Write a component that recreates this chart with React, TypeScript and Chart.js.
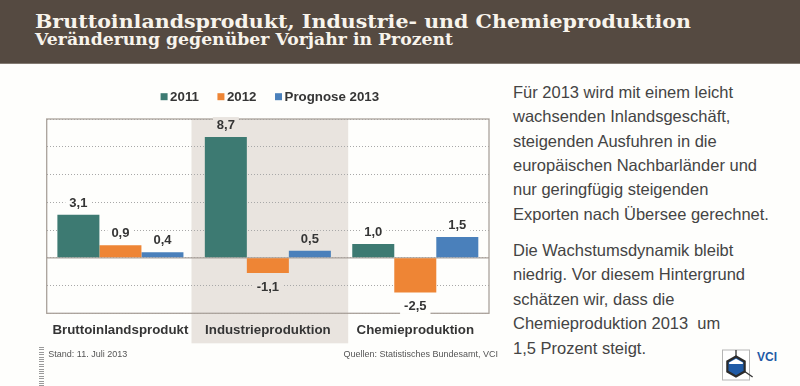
import React, { useEffect, useRef } from 'react';
import { Chart, registerables } from 'chart.js';

Chart.register(...registerables);

// ---- data ----
const categories = ['Bruttoinlandsprodukt', 'Industrieproduktion', 'Chemieproduktion'];
const seriesLabels = ['2011', '2012', 'Prognose 2013'];
const values2011 = [3.1, 8.7, 1.0];
const values2012 = [0.9, -1.1, -2.5];
const values2013 = [0.4, 0.5, 1.5];
const seriesColors = ['#3d7a72', '#ee8535', '#4a80bb'];
const yMin = -4;
const yMax = 10;
const yStep = 2;

const titleText = 'Bruttoinlandsprodukt, Industrie- und Chemieproduktion';
const subtitleText = 'Veränderung gegenüber Vorjahr in Prozent';
const paragraph1 = [
  'Für 2013 wird mit einem leicht',
  'wachsenden Inlandsgeschäft,',
  'steigenden Ausfuhren in die',
  'europäischen Nachbarländer und',
  'nur geringfügig steigenden',
  'Exporten nach Übersee gerechnet.',
];
const paragraph2 = [
  'Die Wachstumsdynamik bleibt',
  'niedrig. Vor diesem Hintergrund',
  'schätzen wir, dass die',
  'Chemieproduktion 2013\u00a0 um',
  '1,5 Prozent steigt.',
];
const footLeft = 'Stand: 11. Juli 2013';
const footRight = 'Quellen: Statistisches Bundesamt, VCI';

// ---- styles ----
const PAGE_BG = '#fefefc';
const BAND = '#e9e4df';
const FRAME = '#aaa29b';
const TEXT = '#353535';
const SANS = '"Liberation Sans", Arial, sans-serif';

const fmt = (v: number) => v.toFixed(1).replace('.', ',');

const bandPlugin = {
  id: 'band',
  beforeDraw(chart: any) {
    const { ctx, chartArea, scales } = chart;
    const x = scales.x;
    const c = x.getPixelForValue(1);
    const w = x.getPixelForValue(1) - x.getPixelForValue(0);
    ctx.save();
    ctx.fillStyle = BAND;
    const left = c - 0.518 * w;
    const right = c + 0.545 * w;
    ctx.fillRect(left, chartArea.top, right - left, chartArea.bottom + 30 - chartArea.top);
    ctx.restore();
  },
};

const framePlugin = {
  id: 'frame',
  beforeDatasetsDraw(chart: any) {
    const { ctx, chartArea, scales } = chart;
    const y0 = scales.y.getPixelForValue(0);
    ctx.save();
    ctx.strokeStyle = FRAME;
    ctx.lineWidth = 1.3;
    ctx.strokeRect(chartArea.left, chartArea.top, chartArea.right - chartArea.left, chartArea.bottom - chartArea.top);
    ctx.beginPath();
    ctx.moveTo(chartArea.left, y0);
    ctx.lineTo(chartArea.right, y0);
    ctx.stroke();
    ctx.restore();
  },
};

const labelPlugin = {
  id: 'valueLabels',
  afterDatasetsDraw(chart: any) {
    const { ctx } = chart;
    ctx.save();
    ctx.font = `bold 13px ${SANS}`;
    ctx.textAlign = 'center';
    ctx.textBaseline = 'middle';
    chart.data.datasets.forEach((ds: any, di: number) => {
      const meta = chart.getDatasetMeta(di);
      meta.data.forEach((el: any, i: number) => {
        const v = ds.data[i] as number;
        const txt = fmt(v);
        const y = v >= 0 ? el.y - 12 : el.y + 13.5;
        const w = ctx.measureText(txt).width;
        ctx.fillStyle = i === 1 ? BAND : PAGE_BG;
        ctx.fillRect(el.x - w / 2 - 4, y - 8, w + 8, 16);
        ctx.fillStyle = TEXT;
        ctx.fillText(txt, el.x, y + 0.5);
      });
    });
    ctx.restore();
  },
};

const legendPlugin = {
  id: 'customLegend',
  afterDraw(chart: any) {
    const { ctx, chartArea } = chart;
    const box = 7;
    const gap = 2.5;
    const spacing = 18.5;
    const cy = 32.7;
    ctx.save();
    ctx.font = `bold 13.3px ${SANS}`;
    ctx.textBaseline = 'middle';
    ctx.textAlign = 'left';
    const items = chart.data.datasets.map((ds: any) => ({
      text: ds.label as string,
      color: ds.backgroundColor as string,
      w: ctx.measureText(ds.label).width,
    }));
    const total =
      items.reduce((s: number, it: any) => s + box + gap + it.w, 0) + spacing * (items.length - 1);
    let x = (chartArea.left + chartArea.right) / 2 + 2 - total / 2;
    items.forEach((it: any) => {
      ctx.fillStyle = it.color;
      ctx.fillRect(x, cy - box / 2, box, box);
      x += box + gap;
      ctx.fillStyle = TEXT;
      ctx.fillText(it.text, x, cy + 0.5);
      x += it.w + spacing;
    });
    ctx.restore();
  },
};

function ChartCanvas() {
  const ref = useRef<HTMLCanvasElement | null>(null);
  useEffect(() => {
    if (!ref.current) return;
    const chart = new Chart(ref.current, {
      type: 'bar',
      data: {
        labels: categories,
        datasets: [
          { label: seriesLabels[0], data: values2011, backgroundColor: seriesColors[0] },
          { label: seriesLabels[1], data: values2012, backgroundColor: seriesColors[1] },
          { label: seriesLabels[2], data: values2013, backgroundColor: seriesColors[2] },
        ],
      },
      options: {
        responsive: false,
        maintainAspectRatio: false,
        animation: false,
        datasets: { bar: { barPercentage: 1, categoryPercentage: 0.855, borderWidth: 0 } },
        layout: { padding: { top: 55, left: 46.7, right: 11, bottom: 0 } },
        plugins: { legend: { display: false }, tooltip: { enabled: false } },
        scales: {
          x: {
            grid: { display: false, drawTicks: false },
            border: { display: false },
            ticks: {
              padding: 9.5,
              color: TEXT,
              maxRotation: 0,
              autoSkip: false,
              font: { family: SANS, size: 13.3, weight: 'bold' },
            },
            afterFit: (s: any) => {
              s.height = 72.7;
            },
          },
          y: {
            min: yMin,
            max: yMax,
            ticks: { display: false, stepSize: yStep },
            grid: { color: '#a8a8a8', lineWidth: 1, drawTicks: false },
            border: { display: false, dash: [1, 2] },
            afterFit: (s: any) => {
              s.width = 0;
            },
          },
        },
      } as any,
      plugins: [bandPlugin, framePlugin, labelPlugin, legendPlugin],
    });
    return () => chart.destroy();
  }, []);
  return (
    <canvas
      ref={ref}
      width={500}
      height={322}
      style={{ position: 'absolute', left: 0, top: 64, width: 500, height: 322 }}
    />
  );
}

function Logo() {
  // hexagon in a 27x30 box
  const cx = 14, cy = 17.5, r = 10;
  const pts = [0, 1, 2, 3, 4, 5].map((k) => {
    const a = (Math.PI / 3) * k - Math.PI / 2;
    return [cx + r * Math.cos(a), cy + r * Math.sin(a)];
  });
  const poly = pts.map((p) => p.join(',')).join(' ');
  return (
    <svg width={70} height={37} style={{ position: 'absolute', left: 722, top: 349 }}>
      <rect x={0.5} y={1} width={27} height={30} fill="#fff" stroke="#b5b5b5" strokeWidth={1} />
      <line x1={cx} y1={1} x2={cx} y2={cy - r} stroke="#333" strokeWidth={1.3} />
      <line x1={pts[2][0]} y1={pts[2][1]} x2={pts[2][0] + 8} y2={pts[2][1] + 5.5} stroke="#333" strokeWidth={1.3} />
      <polygon points={poly} fill="#1f5aa6" stroke="#2b2b2b" strokeWidth={2.2} />
      <polygon
        points={`${pts[5][0] + 1.8},${pts[5][1] + 1} ${pts[0][0]},${pts[0][1] + 2.2} ${pts[1][0] - 1.8},${pts[1][1] + 1} ${pts[1][0] - 1.8},${pts[1][1] + 2.5} ${pts[5][0] + 1.8},${pts[5][1] + 2.5}`}
        fill="#fff"
      />
      <text x={35} y={12} fontFamily={SANS} fontWeight="bold" fontSize={12} fill="#1f5aa6">
        VCI
      </text>
    </svg>
  );
}

export default function App() {
  return (
    <div
      style={{
        position: 'fixed',
        left: 0,
        top: 0,
        width: 800,
        height: 386,
        background: PAGE_BG,
        overflow: 'hidden',
        fontFamily: SANS,
      }}
    >
      <div
        style={{
          position: 'absolute',
          left: 0,
          top: 0,
          width: 800,
          height: 63,
          background: '#554a41',
          borderBottom: '1px solid #827a72',
        }}
      />
      <svg width={800} height={64} style={{ position: 'absolute', left: 0, top: 0 }}>
        <text
          x={35}
          y={28.3}
          textLength={656}
          lengthAdjust="spacingAndGlyphs"
          fontFamily='"DejaVu Serif", serif'
          fontWeight="bold"
          fontSize={19}
          fill="#f8f4ec"
        >
          {titleText}
        </text>
        <text
          x={35}
          y={45.3}
          textLength={418}
          lengthAdjust="spacingAndGlyphs"
          fontFamily='"DejaVu Serif", serif'
          fontWeight="bold"
          fontSize={16.3}
          fill="#f8f4ec"
        >
          {subtitleText}
        </text>
      </svg>

      <ChartCanvas />

      <div
        style={{
          position: 'absolute',
          left: 513,
          top: 80.2,
          fontSize: 16.5,
          lineHeight: '24.3px',
          color: '#444',
          whiteSpace: 'nowrap',
        }}
      >
        {paragraph1.map((l, i) => (
          <div key={i}>{l}</div>
        ))}
      </div>
      <div
        style={{
          position: 'absolute',
          left: 513,
          top: 237.5,
          fontSize: 16.5,
          lineHeight: '24.6px',
          color: '#444',
          whiteSpace: 'nowrap',
        }}
      >
        {paragraph2.map((l, i) => (
          <div key={i}>{l}</div>
        ))}
      </div>

      <div
        style={{
          position: 'absolute',
          left: 39,
          top: 347,
          width: 5,
          height: 39,
          background: 'repeating-linear-gradient(to bottom, #9a9a9a 0px, #9a9a9a 1px, transparent 1px, transparent 2.4px)',
        }}
      />
      <div style={{ position: 'absolute', left: 48.3, top: 349, fontSize: 9, color: '#555', whiteSpace: 'nowrap' }}>
        {footLeft}
      </div>
      <div
        style={{
          position: 'absolute',
          right: 302,
          top: 349,
          fontSize: 9,
          color: '#555',
          whiteSpace: 'nowrap',
          textAlign: 'right',
        }}
      >
        {footRight}
      </div>

      <Logo />
    </div>
  );
}
